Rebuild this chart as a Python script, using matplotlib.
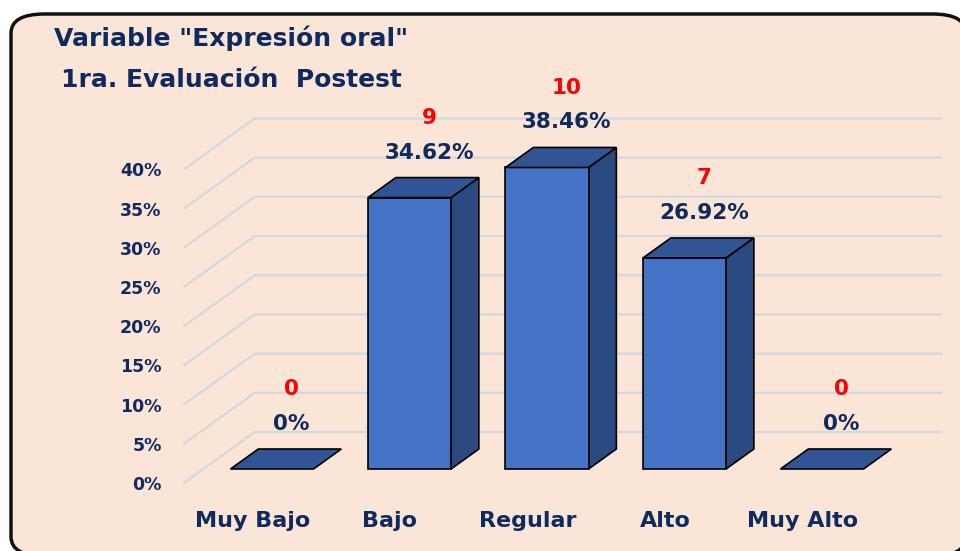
import matplotlib.pyplot as plt
from matplotlib.patches import Polygon, FancyBboxPatch

categories = ["Muy Bajo", "Bajo", "Regular", "Alto", "Muy Alto"]
percents = [0, 34.62, 38.46, 26.92, 0]
counts = [0, 9, 10, 7, 0]
pct_labels = ["0%", "34.62%", "38.46%", "26.92%", "0%"]
yticks = [0, 5, 10, 15, 20, 25, 30, 35, 40]

NAVY = "#0F2A5E"
FRONT = "#4472C4"
TOP = "#315594"
SIDE = "#2A4A80"
BG = "#FBE5D6"
GRID = "#D0D8E0"

# fake 3d: full depth vector in data units (x: category, y: percent)
DX, DY = 0.516, 6.5
D1, D2 = 0.275, 0.667   # bar front / back depth
W = 0.604


def proj(x, y, d):
    return (x + d * DX, y + d * DY)


fig = plt.figure(figsize=(9.6, 5.51), dpi=100)
fig.patch.set_facecolor("white")

panel = FancyBboxPatch((11 / 960, (551 - 556) / 551), (966 - 11) / 960, (556 - 14) / 551,
                       boxstyle="round,pad=0,rounding_size=0.035",
                       transform=fig.transFigure, facecolor=BG, edgecolor="#111111",
                       linewidth=2.5, zorder=-5)
fig.patches.append(panel)

ax = fig.add_axes([183.75 / 960, (551 - 483) / 551, 770 / 960, 52 * 7.84 / 551])
ax.set_zorder(1)
ax.set_facecolor("none")
ax.set_xlim(-0.5, 5.1)
ax.set_ylim(0, 52)
for s in ax.spines.values():
    s.set_visible(False)

# walls / gridlines
for v in yticks:
    x0, y0 = proj(-0.5, v, 0)
    x1, y1 = proj(-0.5, v, 1)
    x2, y2 = proj(4.5, v, 1)
    ax.plot([x0, x1, x2], [y0, y1, y2], color=GRID, lw=1.6, zorder=1,
            solid_capstyle="butt", clip_on=False)

ax.set_yticks(yticks)
ax.set_yticklabels([f"{v}%" for v in yticks])
ax.set_xticks(range(len(categories)))
ax.set_xticklabels(categories)
ax.tick_params(axis="y", length=0, pad=16, labelsize=12.5, labelcolor=NAVY)
ax.tick_params(axis="x", length=0, pad=20, labelsize=16, labelcolor=NAVY)
for t in ax.get_yticklabels() + ax.get_xticklabels():
    t.set_fontweight("bold")

xs = list(range(len(categories)))
fx = [x + D1 * DX for x in xs]
base = D1 * DY

# front faces
ax.bar([f for f, p in zip(fx, percents) if p > 0],
       [p for p in percents if p > 0],
       bottom=base, width=W, color=FRONT, edgecolor="black", linewidth=1.2, zorder=3)

for x, p in zip(xs, percents):
    l, r = x - W / 2, x + W / 2
    top = [proj(l, p, D1), proj(r, p, D1), proj(r, p, D2), proj(l, p, D2)]
    ax.add_patch(Polygon(top, closed=True, facecolor=TOP, edgecolor="black",
                         linewidth=1.2, zorder=4, clip_on=False))
    if p > 0:
        side = [proj(r, 0, D1), proj(r, p, D1), proj(r, p, D2), proj(r, 0, D2)]
        ax.add_patch(Polygon(side, closed=True, facecolor=SIDE, edgecolor="black",
                             linewidth=1.2, zorder=2.9, clip_on=False))

# labels
for x, p, c, lab in zip(xs, percents, counts, pct_labels):
    lx, ly = proj(x, p, 0.55)
    ly = p + D2 * DY
    ax.annotate(lab, (lx, ly), xytext=(0, 18), textcoords="offset points",
                ha="center", va="center", fontsize=15.5, fontweight="bold",
                color=NAVY, zorder=6, annotation_clip=False)
    ax.annotate(str(c), (lx, ly), xytext=(0, 43), textcoords="offset points",
                ha="center", va="center", fontsize=15.5, fontweight="bold",
                color="#FF0000", zorder=6, annotation_clip=False)

fig.text(231 / 960, 1 - 38 / 551, 'Variable "Expresión oral"', ha="center", va="center",
         fontsize=18, fontweight="bold", color=NAVY)
fig.text(231 / 960, 1 - 80 / 551, "1ra. Evaluación  Postest", ha="center", va="center",
         fontsize=18, fontweight="bold", color=NAVY)

fig.savefig("out.png", dpi=100, facecolor=fig.get_facecolor())
